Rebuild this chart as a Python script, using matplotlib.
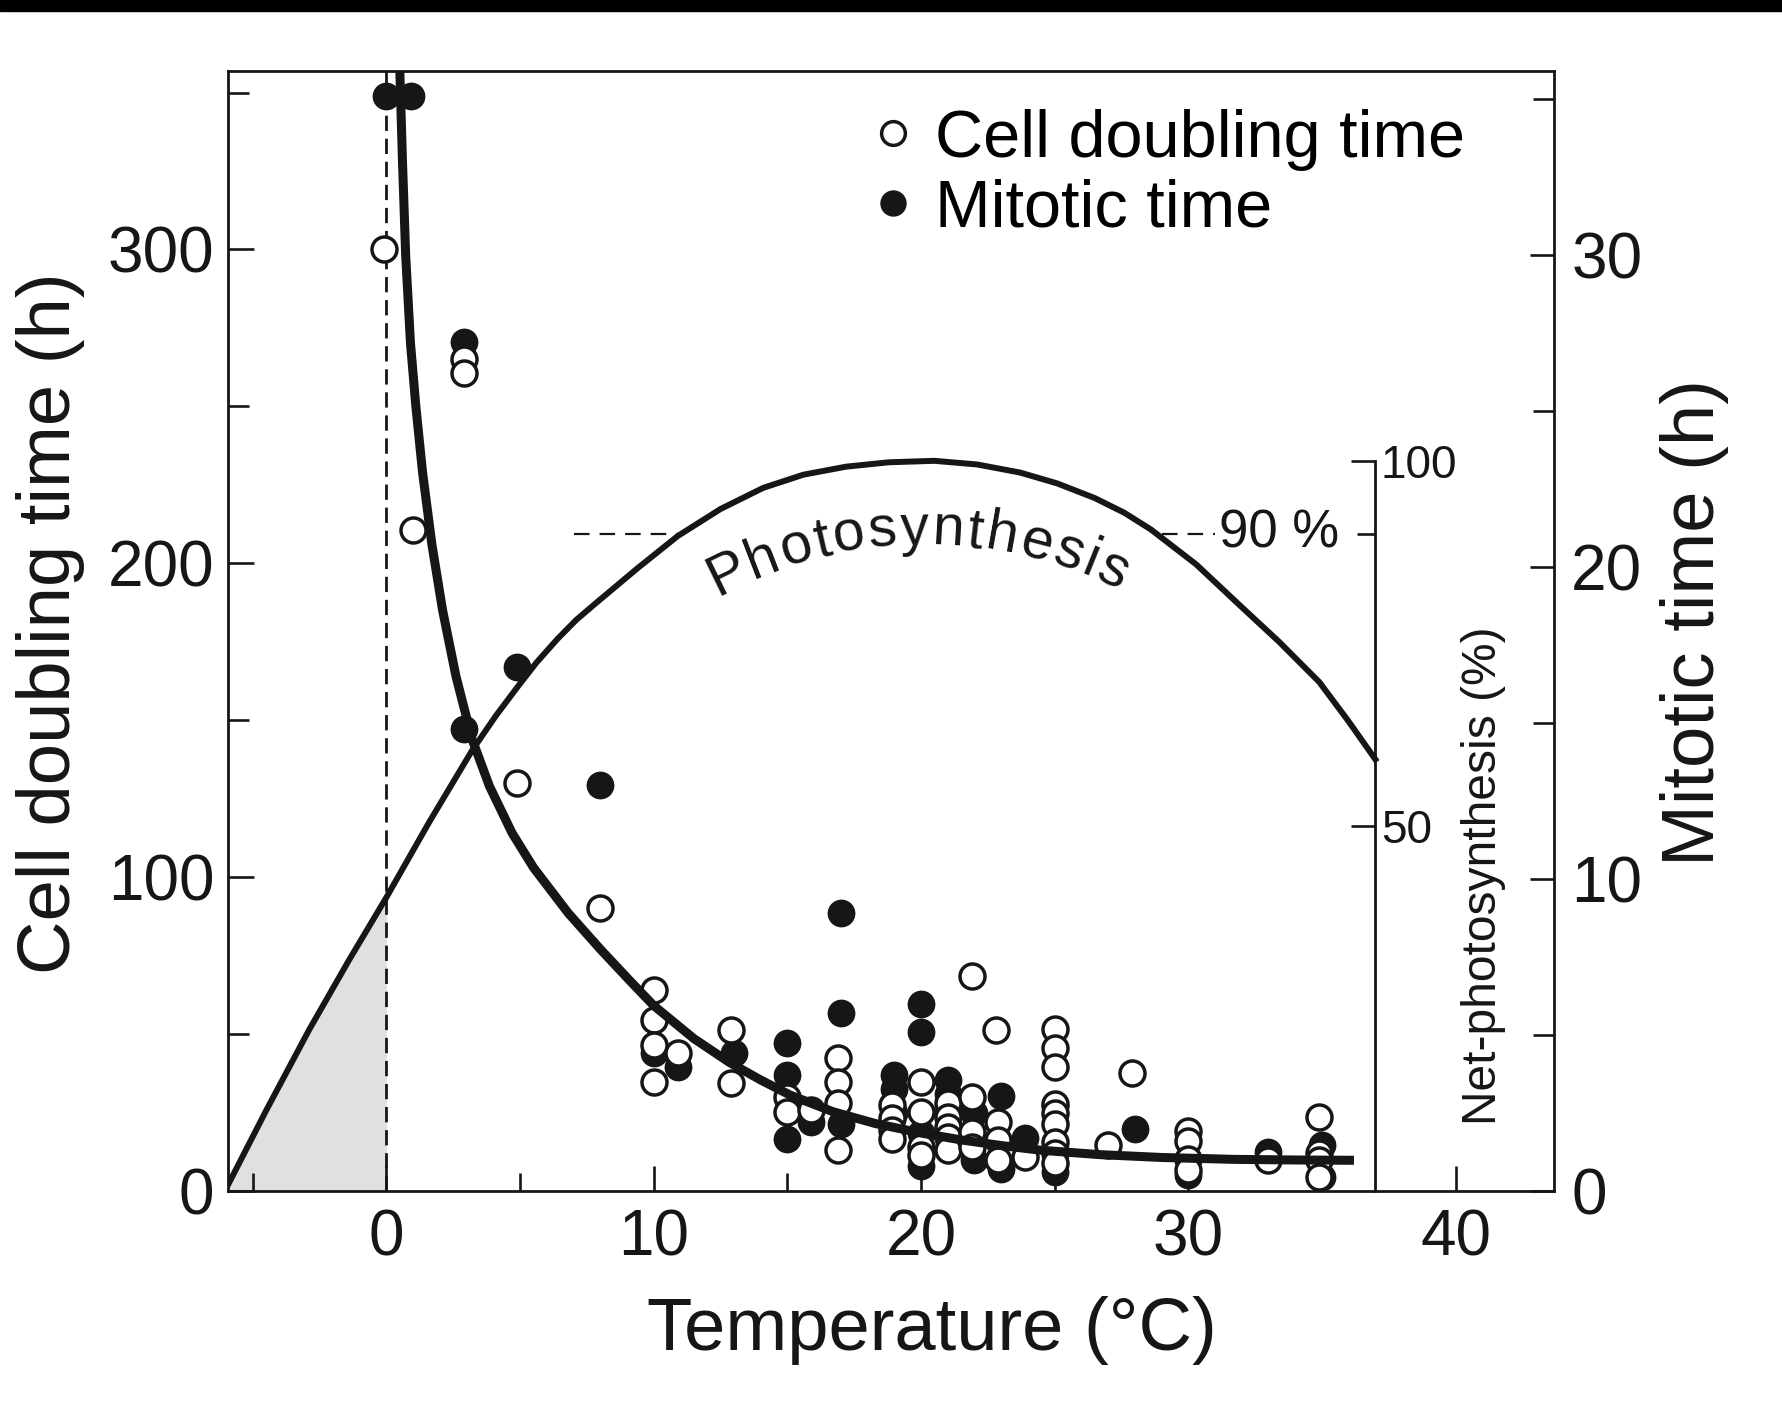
import numpy as np
import matplotlib
matplotlib.use("Agg")
import matplotlib.pyplot as plt
from matplotlib.patches import Rectangle
from matplotlib.transforms import IdentityTransform

plt.rcParams['font.family'] = ['Liberation Sans', 'DejaVu Sans']
INK = '#161616'

# cell doubling time (h) -> open circles, left axis
dbl_temp = [-0.1, 1, 2.9, 2.9, 4.9, 8,
            10, 10, 10, 10, 10.9, 12.9, 12.9, 15, 15, 15.9,
            16.9, 16.9, 16.9, 16.9, 18.9, 18.9, 18.9, 18.9,
            20, 20, 20, 20, 21, 21, 21, 21, 21,
            21.9, 21.9, 21.9, 21.9, 22.8, 22.9, 22.9, 22.9, 23.9,
            25, 25, 25, 25, 25, 25, 25, 25, 25,
            27, 27.9, 30, 30, 30, 30, 33, 34.9, 34.9, 34.9, 34.9]
dbl_time = [300, 210.5, 265, 260.5, 130, 90,
            64, 54.5, 46.5, 34.8, 43.8, 51.3, 34.3, 30, 25.2, 25.7,
            42.2, 34.5, 28, 13, 27.3, 23.3, 19.4, 16.5,
            34.8, 25.2, 14, 11.4, 27.9, 23.6, 20.4, 17.2, 13,
            68.3, 30, 18.8, 14, 51.3, 22, 16.2, 9.8, 10.8,
            51.4, 45.4, 39.3, 27.6, 24.7, 21.3, 15.5, 11.9, 8.7,
            14.6, 37.6, 19, 15.9, 10, 6.6, 9.8, 23.6, 11.9, 9.8, 4.5]

# mitotic time (h) -> filled circles, right axis
mit_temp = [0, 0.9, 2.9, 2.9, 4.9, 8, 10, 10.9, 13, 15, 15, 15, 15.9,
            17, 17, 17, 19, 19, 19, 20, 20, 20, 20, 21, 21, 21,
            22, 22, 23, 23, 23.9, 25, 25, 28, 30, 33, 35, 35]
mit_time = [35.1, 35.1, 27.2, 14.8, 16.8, 13, 4.4, 3.95, 4.4, 4.75, 3.7, 1.65, 2.2,
            8.9, 5.7, 2.15, 3.7, 3.25, 2.5, 6.0, 5.1, 1.85, 0.8, 3.55, 3.1, 2.5,
            2.5, 1.0, 3.05, 0.7, 1.7, 2.7, 0.6, 1.97, 0.5, 1.24, 1.46, 0.45]

# fitted doubling time curve (h)
fit_temp = [0.5, 0.6, 0.72, 0.9, 1.1, 1.35, 1.7, 2.1, 2.6, 3.2, 3.85, 4.7,
            5.5, 6.8, 8.0, 9.1, 10.0, 11.5, 12.85, 14.0, 15.1, 16.7, 18.3,
            20.0, 21.5, 23.0, 24.5, 26.7, 29.0, 31.7, 34.0, 36.2]
fit_time = [357, 328, 298, 270, 250, 229, 206, 185, 164, 144, 129, 114,
            103, 88.5, 77, 67, 59, 48.5, 40.8, 35.3, 30.5, 25.2, 21.4,
            18.4, 16.2, 14.4, 12.9, 11.5, 10.6, 10.0, 9.8, 9.7]

# net photosynthesis (%)
ps_temp = [-5.9, -4.5, -2.9, -1.4, 0, 1.6, 3.2, 4.1, 4.9, 5.6, 6.4, 7.1,
           7.9, 9.4, 10.9, 12.5, 14.1, 15.6, 17.2, 18.8, 20.5, 22.1, 23.7,
           25.1, 26.5, 27.6, 28.6, 30.3, 31.9, 33.4, 34.9, 36.0, 37.0]
ps_rate = [1, 11, 22, 31.6, 40.2, 50.5, 60.3, 65.1, 69.0, 72.3, 75.6, 78.2,
           80.7, 85.3, 89.7, 93.4, 96.3, 98.1, 99.2, 99.8, 100, 99.5, 98.4,
           96.9, 94.9, 92.9, 90.6, 85.8, 80.3, 75.2, 69.7, 64.3, 59.1]

fig = plt.figure(figsize=(17.83, 14.25), dpi=100)
fig.add_artist(Rectangle((0, 1 - 11 / 1425), 1, 11 / 1425,
                         transform=fig.transFigure, color='black'))

ax = fig.add_axes([0.1280, 0.1644, 0.7438, 0.7861])
ax3 = ax.twinx()
ax2 = ax.twinx()
ax.set_zorder(3)
ax2.set_zorder(2)
ax3.set_zorder(1)
ax.patch.set_visible(False)
ax2.patch.set_visible(False)

ax.set_xlim(-5.92, 43.7)
ax.set_ylim(0, 357)
ax2.set_ylim(0, 35.9)
ax3.set_ylim(0, 153.47)

# photosynthesis
ps_t = np.array(ps_temp)
ps_r = np.array(ps_rate)
ax3.fill_between(ps_t, 0, ps_r, where=ps_t <= 0, color='#e0e0e0', lw=0)
ax3.plot(ps_t, ps_r, color=INK, lw=4.3, solid_joinstyle='round')
ax3.plot([7, 10.9], [90, 90], color=INK, lw=1.6, ls=(0, (7, 4.5)))
ax3.plot([29.0, 31.0], [90, 90], color=INK, lw=1.6, ls=(0, (7, 4.5)))
ax3.text(33.4, 90, '90 %', ha='center', va='center', fontsize=38, color=INK)

# doubling and mitotic times
ax.axvline(0, color=INK, lw=2.0, ls=(0, (5.5, 2.8)), zorder=1)
h_fill, = ax2.plot(mit_temp, mit_time, 'o', ms=20, mfc=INK, mec=INK, mew=0,
                   ls='none')
h_open, = ax.plot(dbl_temp, dbl_time, 'o', ms=18, mfc='white', mec=INK,
                  mew=2.5, ls='none', zorder=4)
ax.plot(fit_temp, fit_time, color=INK, lw=6.5, zorder=5,
        solid_capstyle='butt', solid_joinstyle='round')

# spines and ticks
for a in (ax, ax2, ax3):
    for s in a.spines.values():
        s.set_linewidth(2.0)
        s.set_color(INK)
for s in ('left', 'top', 'bottom'):
    ax2.spines[s].set_visible(False)
    ax3.spines[s].set_visible(False)
ax.spines['right'].set_visible(False)
ax3.spines['right'].set_position(('data', 37.0))
ax3.spines['right'].set_bounds(0, 100)

ax.set_xticks([0, 10, 20, 30, 40])
ax.set_xticks([-5, 5, 15, 25, 35], minor=True)
ax.set_yticks([0, 100, 200, 300])
ax.set_yticks([50, 150, 250, 350], minor=True)
ax.tick_params(which='both', direction='in', width=1.9, color=INK,
               labelsize=46, labelcolor=INK, top=False, right=False)
ax.tick_params(axis='x', which='major', length=18, pad=13)
ax.tick_params(axis='x', which='minor', length=13)
ax.tick_params(axis='y', which='major', length=19, pad=10)
ax.tick_params(axis='y', which='minor', length=15)

ax2.set_yticks([0, 10, 20, 30])
ax2.set_yticks([5, 15, 25, 35], minor=True)
ax2.tick_params(which='both', direction='in', width=1.9, color=INK,
                labelsize=46, labelcolor=INK)
ax2.tick_params(which='major', length=17, pad=12)
ax2.tick_params(which='minor', length=15)

ax3.set_yticks([50, 100])
ax3.set_yticks([90], minor=True)
ax3.tick_params(which='both', direction='in', width=1.9, color=INK,
                labelsize=33, labelcolor=INK, pad=4)
ax3.tick_params(which='major', length=17)
ax3.tick_params(which='minor', length=13)

ax.set_xlabel('Temperature (°C)', fontsize=53.5, color=INK)
ax.xaxis.label.set_va('center')
ax.xaxis.set_label_coords(0.531, -0.1245)
ax.set_ylabel('Cell doubling time (h)', fontsize=53.5, color=INK)
ax.yaxis.label.set_va('center')
ax.yaxis.set_label_coords(-0.1337, 0.507)
ax2.set_ylabel('Mitotic time (h)', fontsize=53.5, color=INK)
ax2.yaxis.label.set_va('center')
ax2.yaxis.set_label_coords(1.1054, 0.507)
ax3.set_ylabel('Net-photosynthesis (%)', fontsize=34.5, color=INK)
ax3.yaxis.label.set_va('center')
ax3.yaxis.set_label_coords(0.9468, 0.2814)

ax.legend([h_open, h_fill], ['Cell doubling time', 'Mitotic time'],
          loc='upper left', bbox_to_anchor=(0.4808, 0.966), frameon=False,
          fontsize=48, borderpad=0, borderaxespad=0, handlelength=0.8,
          handletextpad=0.23, labelspacing=0.12, markerscale=0.95)

# curved "Photosynthesis" label
word = 'Photosynthesis'
adv_em = {'P': .667, 'h': .556, 'o': .556, 't': .278, 's': .5, 'y': .5,
          'n': .556, 'e': .556, 'i': .222}
fs = 41
em_px = fs * fig.dpi / 72
track = 2.5
adv = [adv_em[c] * em_px for c in word]
total = sum(adv) + track * (len(word) - 1)
ctr = ax3.transData.transform((20.1, 29.4))
R = 432
theta_mid = np.radians(90.8)
pos = -total / 2
for i, c in enumerate(word):
    s = pos + adv[i] / 2
    th = theta_mid - s / R
    x = ctr[0] + R * np.cos(th)
    y = ctr[1] + R * np.sin(th)
    fig.text(x, y, c, transform=IdentityTransform(), rotation=np.degrees(th) - 90,
             rotation_mode='anchor', ha='center', va='baseline', fontsize=fs,
             color=INK)
    pos += adv[i] + track

fig.savefig('out.png', dpi=100)
